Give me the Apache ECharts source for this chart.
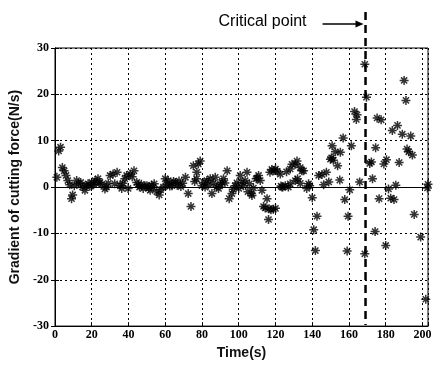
<!DOCTYPE html>
<html>
<head>
<meta charset="utf-8">
<script src="https://cdn.jsdelivr.net/npm/echarts@6/dist/echarts.min.js"></script>
<style>html,body{margin:0;padding:0;background:#fff}#c{width:435px;height:365px}</style>
</head>
<body>
<div id="c"></div>
<script>
// ---- data ----
const times = [
 1,2,3,4,5,6,7,8,9,9.6,10.5,11.8,13,14,15,16.3,17,18,19,20,21,21.8,22.5,23.4,24.5,25.5,27.2,28,29,30,31.6,32.5,33.8,35.4,36.3,37,38,39,39.8,40.9,42,43,44.5,45.2,46,47,48,49,50,51,51.8,52.5,53.4,54,55.4,56.7,57.5,59,60,60.8,61.6,62.5,63.6,64.5,65.4,66.5,67.5,68.5,69.5,
 71,72.5,74,75.3,76,77,77.2,78,79,80,81,81.7,82.7,83.5,84.5,85.4,86.3,87.2,88,89,90,90.8,91.7,92.5,93.7,94.8,96.3,97,98,99,100,100.8,101.7,102.5,103.5,104.5,105,105.8,107,107.2,108,109.5,110,110.8,111.7,112.6,113.5,114.4,115.4,116.2,116.5,117.5,118.8,120,117,118,119,120,121,122.6,123,123.5,124,125.3,126,127,128,128,129,130.8,131.7,130.8,132,133.5,133.5,134.4,135.3,137,138,138.6,
 140,140.8,141.7,142.6,143.5,145.3,146.2,147.7,149,149.9,150.5,150.8,151.5,152.6,153.8,155,155.3,156.8,157.7,159,159.5,160.4,161.3,163,164,164.4,165.8,168.6,168.6,169.5,171.3,172.2,172.8,174.2,174.5,175.3,176.4,177.5,179,180,180.4,181.5,182.7,183.6,184.5,185.5,186.4,187.3,189,190,191,191.6,192.5,193.6,194.5,195.5,199,201.8,202.7,203
];
const grads = [
 2.1,7.8,8.6,4.2,3.5,2.5,1.4,0.5,-2.5,-1.7,0.3,1.4,0.7,1.0,0,-0.7,0.3,0.7,0.2,1,0.5,1.4,0.8,1.8,1,0.6,-0.4,0,0.8,2.5,2.8,0.7,3.2,0.4,-0.3,0.8,1.8,2.5,-0.3,2.8,2.2,3.5,1,0.5,0,0.6,-0.3,0.2,0.3,-0.2,-0.7,0.4,0,0.7,-1,-1.7,-0.6,0,1.8,0.6,1.4,0.2,0.3,1.2,1,0.4,1.3,0.1,0.8,
 2.1,-1.4,-4.2,4.6,1.2,1.8,3.2,5,5.6,0.3,1.0,0,1.4,0.5,1.8,-1.4,0.8,2.1,0,-0.3,0.6,1,1.8,0.9,3.5,-2.5,-1.4,-0.5,0.3,0.9,-0.3,2.5,1,0.3,1.4,3.2,-1,0.7,-1.4,-1.8,-0.2,1.8,1.9,2.5,1.4,-0.7,-4.2,-4.5,-2.5,-7,-4.7,-4.9,-4.8,-4.6,3.2,3.8,3.5,3.9,3.4,2.8,0.2,0,0,0.3,3.3,0,3.9,0.7,4.9,4.9,5.6,1.4,1.8,4.2,0.8,3.5,3.5,-0.3,0.7,0.3,
 -2.3,-9.2,-13.7,-6.3,2.5,2.7,0.5,3.2,1.1,6,6.3,8.9,5.8,7.6,4.6,1.5,7.5,10.6,-2.7,-13.8,-6.3,-0.6,8.9,16.3,14.6,15.6,1.1,26.5,-14.4,19.4,5.1,5.4,1.8,-9.6,8.5,14.9,-2.5,14.5,5,-12.6,5.9,-0.4,-2.4,12.2,-2.7,0.4,13.3,5.3,11.4,23,18.7,8.2,7.6,11,6.9,-5.9,-10.8,-24.2,-0.2,0.6
];
const xTicks = [0,20,40,60,80,100,120,140,160,180,200];
const yTicks = [-30,-20,-10,0,10,20,30];
const criticalTime = 169;
const criticalLabel = 'Critical point';

const points = times.map((t, i) => [t, grads[i]]);
const star = 'path://M5,0L5,10M0,5L10,5M1.6,1.6L8.4,8.4M1.6,8.4L8.4,1.6';
const labelFont = {color:'#000', fontFamily:'Liberation Sans Narrow', fontWeight:'bold', fontSize:12};
const grid = {color:'#000', type:[2,3], width:1};

const chart = echarts.init(document.getElementById('c'), null, {renderer:'canvas'});
chart.setOption({
  animation:false,
  backgroundColor:'#fff',
  grid:{left:55, right:7, top:48, bottom:33, show:true, borderColor:'#000', borderWidth:1},
  xAxis:[{
    type:'value', min:0, max:203, interval:20,
    axisLine:{show:true, onZero:false, lineStyle:{color:'#000'}},
    axisTick:{inside:true, length:4, lineStyle:{color:'#000'}},
    axisLabel:Object.assign({margin:3, formatter:v => xTicks.includes(v) ? String(v) : ''}, labelFont),
    splitLine:{show:true, lineStyle:grid},
    name:'Time(s)', nameLocation:'middle', nameGap:15,
    nameTextStyle:{fontSize:14, fontWeight:'bold', fontFamily:'Liberation Sans', color:'#111'}
  },{
    type:'value', position:'top', min:0, max:203, interval:20,
    axisLine:{show:true, lineStyle:{color:'#000'}},
    axisTick:{inside:true, length:4, lineStyle:{color:'#000'}},
    axisLabel:{show:false}, splitLine:{show:false}
  }],
  yAxis:[{
    type:'value', min:-30, max:30, interval:10,
    axisLine:{show:true, onZero:false, lineStyle:{color:'#000'}},
    axisTick:{inside:true, length:4, lineStyle:{color:'#000'}},
    axisLabel:Object.assign({margin:6, formatter:v => yTicks.includes(v) ? String(v) : ''}, labelFont),
    splitLine:{show:true, lineStyle:grid},
    name:'Gradient of cutting force(N/s)', nameLocation:'middle', nameGap:26,
    nameTextStyle:{fontSize:14, fontWeight:'bold', fontFamily:'Liberation Sans', color:'#111'}
  },{
    type:'value', position:'right', min:-30, max:30, interval:10,
    axisLine:{show:true, lineStyle:{color:'#000'}},
    axisTick:{inside:true, length:4, lineStyle:{color:'#000'}},
    axisLabel:{show:false}, splitLine:{show:false}
  }],
  series:[{
    type:'scatter', data:points, symbol:star, symbolSize:9,
    itemStyle:{color:'#000', borderColor:'#000', borderWidth:1.5}
  }]
});

function addAnnotation(){
  const top = chart.convertToPixel({xAxisIndex:0, yAxisIndex:0}, [criticalTime, 30]);
  const bot = chart.convertToPixel({xAxisIndex:0, yAxisIndex:0}, [criticalTime, -30]);
  const x = top[0];
  const lineTop = top[1] - 36;
  const ay = top[1] - 24;
  chart.setOption({graphic:[
    {type:'line', shape:{x1:x, y1:lineTop, x2:x, y2:bot[1]-1}, style:{stroke:'#000', lineWidth:2.5, lineDash:[8,5]}, z:10},
    {type:'text', style:{text:criticalLabel, x:x-147, y:ay-2, fill:'#000', font:'16px "Liberation Sans", Arial', textVerticalAlign:'middle'}, z:10},
    {type:'line', shape:{x1:x-43, y1:ay, x2:x-6, y2:ay}, style:{stroke:'#000', lineWidth:1.3}, z:10},
    {type:'polygon', shape:{points:[[x-2,ay],[x-10,ay-3.5],[x-10,ay+3.5]]}, style:{fill:'#000'}, z:10}
  ]});
}
addAnnotation();
</script>
</body>
</html>
